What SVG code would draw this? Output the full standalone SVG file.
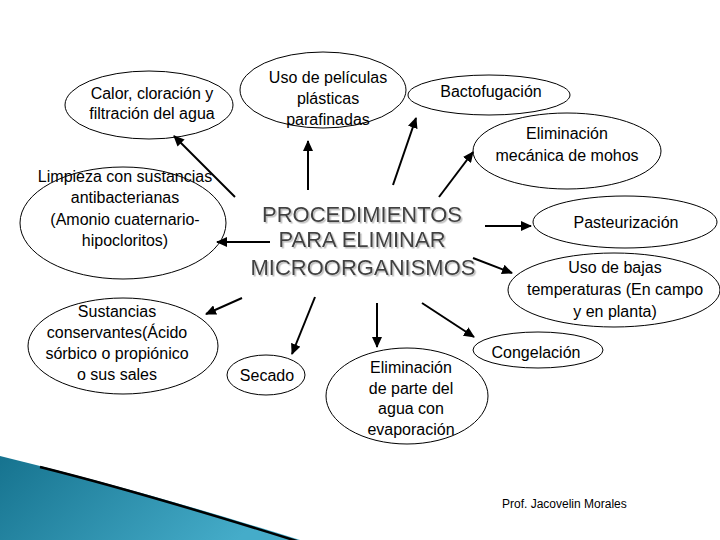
<svg xmlns="http://www.w3.org/2000/svg" width="720" height="540" viewBox="0 0 720 540">
<style>
.n{fill:none;stroke:#000;stroke-width:1}
.t{font-family:"Liberation Sans",Arial,sans-serif;font-size:16px;fill:#000;text-anchor:middle}
.c{stroke:#000;stroke-width:2;fill:none;marker-end:url(#ah)}
.ti{font-family:"Liberation Sans",Arial,sans-serif;font-size:22px;text-anchor:middle;fill:#404040;filter:url(#sh)}
</style>
<defs>
<marker id="ah" markerUnits="userSpaceOnUse" markerWidth="11" markerHeight="10" refX="10" refY="5" orient="auto">
<path d="M0,0 L11,5 L0,10 Z" fill="#000"/>
</marker>
<linearGradient id="tg" x1="0" y1="0" x2="1" y2="0.3">
<stop offset="0" stop-color="#16738f"/>
<stop offset="1" stop-color="#45acc9"/>
</linearGradient>
<filter id="sh" x="-10%" y="-30%" width="120%" height="160%">
<feDropShadow dx="1.5" dy="1.5" stdDeviation="0.6" flood-color="#bbbbbb" flood-opacity="1"/>
</filter>
</defs>
<rect width="720" height="540" fill="#fff"/>
<g id="corner">
<path d="M0,456 Q140,490 300,540 L0,540 Z" fill="url(#tg)"/>
<path d="M40,467 Q140,492 300,542" fill="none" stroke="#000" stroke-width="2.5"/>
</g>
<g id="connectors">
<line class="c" x1="235" y1="197" x2="174" y2="136"/>
<line class="c" x1="308" y1="190" x2="308" y2="141"/>
<line class="c" x1="393" y1="185" x2="416" y2="118"/>
<line class="c" x1="439" y1="197" x2="473" y2="152"/>
<line class="c" x1="485" y1="226" x2="531" y2="226"/>
<line class="c" x1="473" y1="258" x2="512" y2="273"/>
<line class="c" x1="422" y1="303" x2="474" y2="337"/>
<line class="c" x1="377" y1="303" x2="377" y2="347"/>
<line class="c" x1="315" y1="297" x2="292" y2="354"/>
<line class="c" x1="242" y1="298" x2="206" y2="314"/>
<line class="c" x1="270" y1="242" x2="217" y2="242"/>
</g>
<g id="title">
<text class="ti" x="362" y="222">PROCEDIMIENTOS</text>
<text class="ti" x="362" y="247">PARA ELIMINAR</text>
<text class="ti" x="363" y="275">MICROORGANISMOS</text>
</g>
<g id="calor">
<ellipse class="n" cx="149" cy="105" rx="84" ry="34"/>
<text class="t" x="152" y="99">Calor, cloración y</text>
<text class="t" x="152" y="119">filtración del agua</text>
</g>
<g id="peliculas">
<ellipse class="n" cx="323" cy="90" rx="83" ry="38"/>
<text class="t" x="328" y="83">Uso de películas</text>
<text class="t" x="328" y="104">plásticas</text>
<text class="t" x="328" y="125">parafinadas</text>
</g>
<g id="bactofugacion">
<ellipse class="n" cx="489" cy="95" rx="81" ry="20"/>
<text class="t" x="491" y="97">Bactofugación</text>
</g>
<g id="mohos">
<ellipse class="n" cx="567" cy="151" rx="94" ry="38"/>
<text class="t" x="567" y="139">Eliminación</text>
<text class="t" x="567" y="161">mecánica de mohos</text>
</g>
<g id="pasteurizacion">
<ellipse class="n" cx="625" cy="222" rx="92" ry="26"/>
<text class="t" x="626" y="228">Pasteurización</text>
</g>
<g id="bajas">
<ellipse class="n" cx="614" cy="290" rx="106" ry="37"/>
<text class="t" x="615" y="273">Uso de bajas</text>
<text class="t" x="615" y="295">temperaturas (En campo</text>
<text class="t" x="615" y="317">y en planta)</text>
</g>
<g id="congelacion">
<ellipse class="n" cx="538" cy="350" rx="65" ry="18"/>
<text class="t" x="536" y="358">Congelación</text>
</g>
<g id="evaporacion">
<ellipse class="n" cx="407" cy="396" rx="81" ry="48"/>
<text class="t" x="411" y="373">Eliminación</text>
<text class="t" x="411" y="394">de parte del</text>
<text class="t" x="411" y="414">agua con</text>
<text class="t" x="411" y="435">evaporación</text>
</g>
<g id="secado">
<ellipse class="n" cx="266" cy="375" rx="39" ry="20"/>
<text class="t" x="267" y="381">Secado</text>
</g>
<g id="conservantes">
<ellipse class="n" cx="123" cy="346" rx="95" ry="48"/>
<text class="t" x="117" y="317">Sustancias</text>
<text class="t" x="117" y="338">conservantes(Ácido</text>
<text class="t" x="117" y="359">sórbico o propiónico</text>
<text class="t" x="117" y="380">o sus sales</text>
</g>
<g id="limpieza">
<ellipse class="n" cx="123" cy="223" rx="103" ry="56"/>
<text class="t" x="125" y="182">Limpieza con sustancias</text>
<text class="t" x="125" y="203">antibacterianas</text>
<text class="t" x="125" y="225">(Amonio cuaternario-</text>
<text class="t" x="125" y="246">hipocloritos)</text>
</g>
<g id="autor">
<text x="502" y="508" font-family="Liberation Sans, Arial, sans-serif" font-size="12" fill="#000">Prof. Jacovelin Morales</text>
</g>
</svg>
